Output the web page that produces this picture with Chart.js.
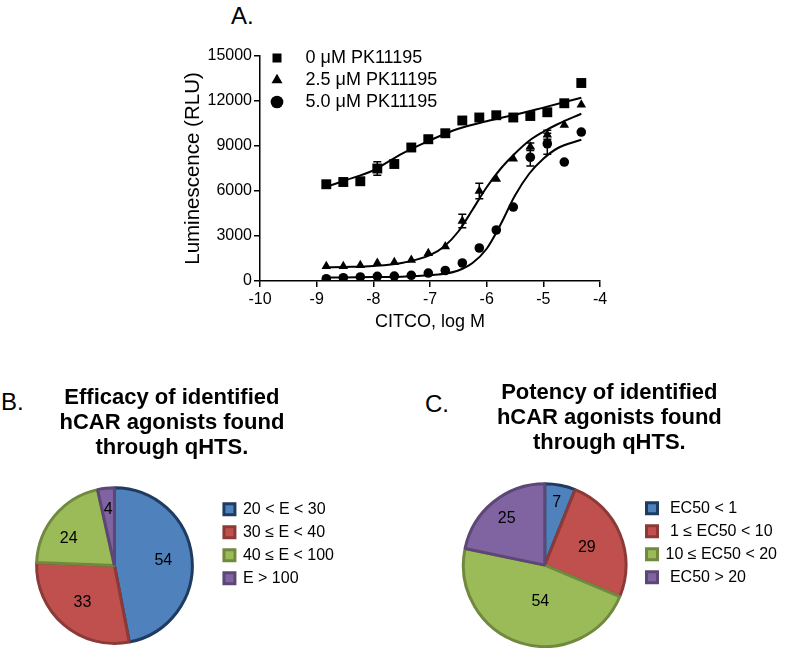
<!DOCTYPE html>
<html>
<head>
<meta charset="utf-8">
<script src="https://cdn.jsdelivr.net/npm/chart.js@4.4.0/dist/chart.umd.min.js"></script>
<style>
  body { margin: 0; background: #fff; width: 787px; height: 648px; position: relative; overflow: hidden; font-family: "Liberation Sans", Arial, sans-serif; }
  .box { position: absolute; }
  .lbl { position: absolute; font-size: 24px; line-height: 1; color: #000; }
</style>
</head>
<body>
<div class="lbl" style="left:231px;top:4px">A.</div>
<div class="lbl" style="left:1px;top:390px">B.</div>
<div class="lbl" style="left:425px;top:392px">C.</div>
<div class="box" style="left:170px;top:20px;width:450px;height:313px"><canvas id="doseChart"></canvas></div>
<div class="box" style="left:0px;top:375px;width:346px;height:273px"><canvas id="effChart"></canvas></div>
<div class="box" style="left:430px;top:375px;width:357px;height:273px"><canvas id="potChart"></canvas></div>
<script>
// panel A - CITCO dose response (log M)
var concX = [-8.83, -8.53, -8.23, -7.93, -7.63, -7.33, -7.03, -6.73, -6.43, -6.13, -5.83, -5.53, -5.23, -4.93, -4.63, -4.33];
var pk0   = [6450, 6600, 6650, 7500, 7800, 8900, 9450, 9850, 10700, 10900, 11050, 10900, 11000, 11250, 11850, 13200];
var pk0Err = [0, 0, 0, 450, 0, 0, 250, 0, 0, 0, 0, 0, 0, 0, 0, 0];
var pk25  = [980, 980, 1050, 1200, 1250, 1400, 1850, 2300, 4000, 6000, 6800, 8150, 8950, 9750, 10400, 11750];
var pk25Err = [0, 0, 0, 0, 0, 0, 0, 0, 450, 520, 0, 0, 250, 300, 0, 0];
var pk50  = [150, 220, 270, 310, 330, 380, 530, 700, 1200, 2200, 3400, 4930, 8250, 9150, 7930, 9930];
var pk50Err = [0, 0, 0, 0, 0, 0, 0, 0, 0, 0, 0, 0, 580, 700, 0, 0];

// fitted curves
var fit0X = [-8.85, -8.5, -8, -7.5, -7, -6.5, -6, -5.5, -5, -4.33];
var fit0Y = [6250, 6700, 7380, 8480, 9380, 10150, 10650, 11080, 11560, 12220];
var fit25X = [-8.85, -8.5, -8, -7.5, -7, -6.75, -6.5, -6.25, -6, -5.75, -5.5, -5.25, -5, -4.75, -4.33];
var fit25Y = [900, 930, 1000, 1200, 1720, 2300, 3300, 4750, 6250, 7500, 8500, 9350, 9950, 10450, 11150];
var fit50X = [-8.85, -8, -7.5, -7, -6.75, -6.5, -6.25, -6, -5.75, -5.5, -5.25, -5, -4.75, -4.33];
var fit50Y = [230, 260, 290, 380, 480, 700, 1200, 2150, 3800, 5700, 7150, 8150, 8850, 9420];

var seriesNames = ['0 μM PK11195', '2.5 μM PK11195', '5.0 μM PK11195'];

// panels B and C
var effLabels = ['20 < E < 30', '30 ≤ E < 40', '40 ≤ E < 100', 'E > 100'];
var effCounts = [54, 33, 24, 4];
var potLabels = [' EC50 < 1', ' 1 ≤ EC50 < 10', '10 ≤ EC50 < 20', ' EC50 > 20'];
var potCounts = [7, 29, 54, 25];

Chart.defaults.font.family = '"Liberation Sans", Arial, sans-serif';
Chart.defaults.color = '#000';
Chart.defaults.animation = false;

function pts(xs, ys) {
  return xs.map(function (x, i) { return { x: x, y: ys[i] }; });
}

var errorBars = {
  id: 'errorBars',
  afterDatasetsDraw: function (chart) {
    var ctx = chart.ctx, sx = chart.scales.x, sy = chart.scales.y;
    ctx.save();
    ctx.strokeStyle = '#000';
    ctx.lineWidth = 1.5;
    chart.data.datasets.forEach(function (ds) {
      if (!ds.errors) return;
      ds.data.forEach(function (p, i) {
        var e = ds.errors[i];
        if (!e) return;
        var px = sx.getPixelForValue(p.x);
        var top = sy.getPixelForValue(p.y + e), bot = sy.getPixelForValue(p.y - e);
        ctx.beginPath();
        ctx.moveTo(px, top); ctx.lineTo(px, bot);
        ctx.moveTo(px - 4, top); ctx.lineTo(px + 4, top);
        ctx.moveTo(px - 4, bot); ctx.lineTo(px + 4, bot);
        ctx.stroke();
      });
    });
    ctx.restore();
  }
};

// put the legend inside the plot, top left
var legendInside = {
  id: 'legendInside',
  afterLayout: function (chart) {
    var lg = chart.legend;
    lg.left = chart.chartArea.left + 8.5;
    lg.top = 25;
  }
};

function curveSet(xs, ys) {
  return { type: 'line', data: pts(xs, ys), borderColor: '#000', borderWidth: 2, pointRadius: 0,
           cubicInterpolationMode: 'monotone', fill: false };
}

new Chart(document.getElementById('doseChart'), {
  type: 'scatter',
  data: {
    datasets: [
      { label: seriesNames[0], data: pts(concX, pk0), errors: pk0Err, pointStyle: 'rect', pointRadius: 7, backgroundColor: '#000', borderColor: '#000', borderWidth: 0 },
      { label: seriesNames[1], data: pts(concX, pk25), errors: pk25Err, pointStyle: 'triangle', pointRadius: 5.5, backgroundColor: '#000', borderColor: '#000', borderWidth: 0 },
      { label: seriesNames[2], data: pts(concX, pk50), errors: pk50Err, pointStyle: 'circle', pointRadius: 4.8, backgroundColor: '#000', borderColor: '#000', borderWidth: 0 },
      curveSet(fit0X, fit0Y),
      curveSet(fit25X, fit25Y),
      curveSet(fit50X, fit50Y)
    ]
  },
  options: {
    responsive: true,
    maintainAspectRatio: false,
    layout: { padding: { left: 10, right: 20, top: 36, bottom: 0 } },
    plugins: {
      tooltip: { enabled: false },
      legend: {
        position: 'chartArea',
        align: 'start',
        labels: {
          usePointStyle: true, boxWidth: 9, boxHeight: 9, padding: 4, font: { size: 18 },
          generateLabels: function (c) {
            return Chart.defaults.plugins.legend.labels.generateLabels(c)
              .filter(function (l) { return l.datasetIndex < 3; })
              .map(function (l) { l.text = '   ' + l.text; return l; });
          }
        }
      }
    },
    scales: {
      x: {
        type: 'linear', min: -10, max: -4,
        ticks: { stepSize: 1, font: { size: 16 }, padding: 3 },
        grid: { drawOnChartArea: false, tickLength: 6, color: '#000', lineWidth: 1.5 },
        border: { color: '#000', width: 1.5 },
        title: { display: true, text: 'CITCO, log M', font: { size: 18 }, padding: { top: 0, bottom: 0 } },
        afterFit: function (s) { s.height = 52; }
      },
      y: {
        min: 0, max: 15000,
        ticks: { stepSize: 3000, font: { size: 16 }, padding: 2, callback: function (v) { return String(v); } },
        grid: { drawOnChartArea: false, tickLength: 6, color: '#000', lineWidth: 1.5 },
        border: { color: '#000', width: 1.5 },
        title: { display: true, text: 'Luminescence (RLU)', font: { size: 20.5 }, padding: { top: 1, bottom: 0 } },
        afterFit: function (s) { s.width = 80; }
      }
    }
  },
  plugins: [errorBars, legendInside]
});

var sliceLabels = {
  id: 'sliceLabels',
  afterDatasetsDraw: function (chart, args, opts) {
    var ctx = chart.ctx;
    var meta = chart.getDatasetMeta(0);
    var vals = chart.data.datasets[0].data;
    ctx.save();
    ctx.font = '16px "Liberation Sans", Arial, sans-serif';
    ctx.fillStyle = '#000';
    ctx.textAlign = 'center';
    ctx.textBaseline = 'middle';
    meta.data.forEach(function (arc, i) {
      var p = arc.getProps(['x', 'y', 'startAngle', 'endAngle', 'outerRadius']);
      var mid = (p.startAngle + p.endAngle) / 2 + (opts.turn ? opts.turn[i] : 0);
      var r = p.outerRadius * opts.radii[i];
      ctx.fillText(vals[i], p.x + Math.cos(mid) * r, p.y + Math.sin(mid) * r);
    });
    ctx.restore();
  }
};

var fills = ['#4f81bd', '#c0504d', '#9bbb59', '#8064a2'];
var edges = ['#1f3b60', '#8c3a37', '#71893f', '#5c4776'];

function pieChart(id, labels, counts, title, pad, titlePad, legendTop, radii, turn) {
  return new Chart(document.getElementById(id), {
    type: 'pie',
    data: {
      labels: labels,
      datasets: [{ data: counts, backgroundColor: fills, borderColor: edges, borderWidth: 3 }]
    },
    options: {
      responsive: true,
      maintainAspectRatio: false,
      layout: { padding: pad },
      plugins: {
        tooltip: { enabled: false },
        title: { display: true, text: title, font: { size: 22, weight: 'bold', lineHeight: 1.14 }, padding: titlePad },
        legend: {
          position: 'right', align: 'start', fullSize: false,
          title: { display: true, text: '', font: { size: 1, lineHeight: 1 }, padding: { top: legendTop, bottom: 0 } },
          labels: { boxWidth: 11, boxHeight: 11, padding: 7, font: { size: 16 } }
        },
        sliceLabels: { radii: radii, turn: turn }
      }
    },
    plugins: [sliceLabels]
  });
}

// trailing spaces nudge the centred title left to sit where the original does
pieChart('effChart', effLabels, effCounts,
  ['Efficacy of identified  ', 'hCAR agonists found  ', 'through qHTS.  '],
  { left: 12, right: 2, bottom: 3 }, { top: 10, bottom: 26 }, 7,
  [0.63, 0.63, 0.68, 0.73], [0, 0, -0.17, 0]);

pieChart('potChart', potLabels, potCounts,
  ['Potency of identified   ', 'hCAR agonists found   ', 'through qHTS.   '],
  { left: 20, right: 0, bottom: 0 }, { top: 5, bottom: 27 }, 10,
  [0.78, 0.56, 0.45, 0.74], [0, 0, -0.18, 0]);
</script>
</body>
</html>
